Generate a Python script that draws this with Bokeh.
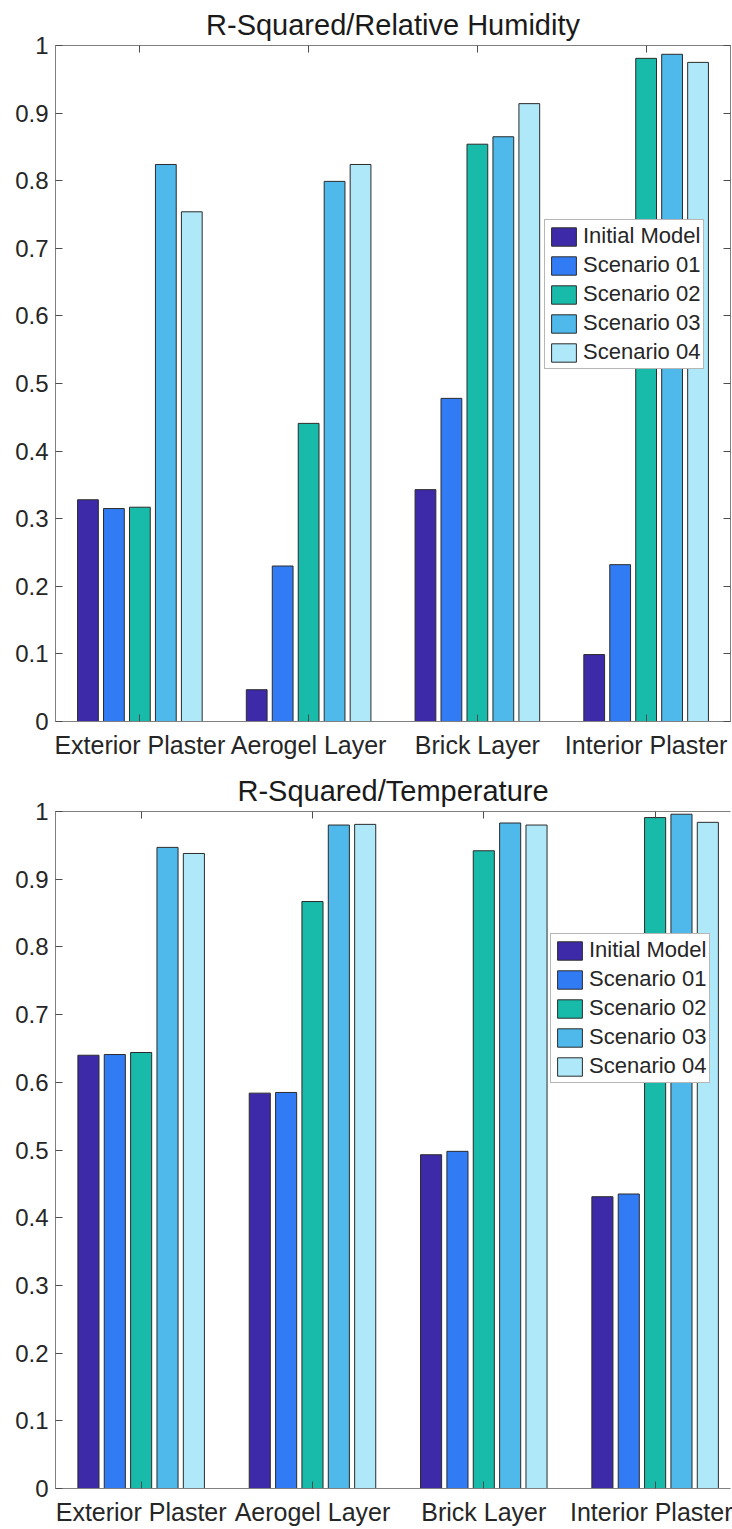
import numpy as np
from bokeh.plotting import figure
from bokeh.models import FixedTicker, LinearAxis, Legend, LegendItem, Range1d, Title
from bokeh.layouts import column
from bokeh.embed import file_html
from bokeh.resources import INLINE

# Wall layers (categories) and model runs (series)
layers = ["Exterior Plaster", "Aerogel Layer", "Brick Layer", "Interior Plaster"]
series = ["Initial Model", "Scenario 01", "Scenario 02", "Scenario 03", "Scenario 04"]
colors = ["#3c2aa8", "#317cf5", "#18bba9", "#4eb9ea", "#aee8f9"]

# R-squared, relative humidity
rh_initial = [0.328, 0.047, 0.343, 0.099]
rh_s01 = [0.315, 0.230, 0.478, 0.232]
rh_s02 = [0.317, 0.441, 0.854, 0.981]
rh_s03 = [0.824, 0.799, 0.865, 0.987]
rh_s04 = [0.754, 0.824, 0.914, 0.975]

# R-squared, temperature
t_initial = [0.640, 0.584, 0.493, 0.431]
t_s01 = [0.641, 0.585, 0.498, 0.435]
t_s02 = [0.644, 0.867, 0.942, 0.991]
t_s03 = [0.947, 0.980, 0.983, 0.996]
t_s04 = [0.938, 0.981, 0.980, 0.984]

y_ticks = [0.0, 0.1, 0.2, 0.3, 0.4, 0.5, 0.6, 0.7, 0.8, 0.9, 1.0]
y_tick_labels = ["0", "0.1", "0.2", "0.3", "0.4", "0.5", "0.6", "0.7", "0.8", "0.9", "1"]

FONT = "Liberation Sans"
TEXT = "#262626"
AXIS = "#808080"
TICK = "#4d4d4d"


def style_axis(ax, label_size=None):
    ax.axis_line_color = AXIS
    ax.axis_line_width = 1
    ax.major_tick_line_color = TICK
    ax.major_tick_in = 7
    ax.major_tick_out = 0
    ax.minor_tick_line_color = None
    ax.major_label_text_font = FONT
    if label_size:
        ax.major_label_text_font_size = label_size
        ax.major_label_text_color = TEXT
    else:
        # tick marks only: the box edges carry no labels
        ax.major_label_text_font_size = "0px"
        ax.major_label_text_color = None
        ax.major_label_standoff = 0


def bar_chart(title, values, width, height, borders, x_end, legend_loc, right_axis):
    left, right, top, bottom = borders
    p = figure(width=width, height=height, x_range=Range1d(0.5, x_end),
               y_range=Range1d(0, 1), output_backend="svg", toolbar_location=None,
               min_border_left=left, min_border_right=right,
               min_border_top=top, min_border_bottom=bottom)
    p.xgrid.visible = False
    p.ygrid.visible = False
    p.outline_line_color = None
    p.background_fill_color = "white"
    p.border_fill_color = "white"

    p.title = Title(text=title, align="center", text_font=FONT, text_font_size="29px",
                    text_font_style="normal", text_color="#1a1a1a", standoff=10)

    # grouped bar geometry
    n = len(series)
    group_width = min(0.8, n / (n + 1.5))
    pitch = group_width / n
    bar_w = pitch * 0.8
    centers = np.arange(1, len(layers) + 1)

    items = []
    for i, (name, vals, col) in enumerate(zip(series, values, colors)):
        xs = centers + (i - (n - 1) / 2) * pitch
        r = p.vbar(x=xs, top=vals, bottom=0, width=bar_w, fill_color=col,
                   line_color="#2b2b2b", line_width=1)
        items.append(LegendItem(label=name, renderers=[r]))

    x_ticker = FixedTicker(ticks=list(centers))
    x_labels = {int(c): lab for c, lab in zip(centers, layers)}
    y_ticker = FixedTicker(ticks=y_ticks)
    y_labels = dict(zip(y_ticks, y_tick_labels))

    xa = p.xaxis[0]
    xa.ticker = x_ticker
    xa.major_label_overrides = x_labels
    xa.major_label_standoff = 9
    style_axis(xa, "25px")

    ya = p.yaxis[0]
    ya.ticker = y_ticker
    ya.major_label_overrides = y_labels
    ya.major_label_standoff = 7
    style_axis(ya, "24px")

    top_ax = LinearAxis(ticker=x_ticker)
    style_axis(top_ax)
    p.add_layout(top_ax, "above")

    if right_axis:
        right_ax = LinearAxis(ticker=y_ticker)
        style_axis(right_ax)
        p.add_layout(right_ax, "right")

    legend = Legend(items=items, location=legend_loc, label_text_font=FONT,
                    label_text_font_size="22px", label_text_color=TEXT,
                    glyph_width=31, glyph_height=23, label_height=23,
                    spacing=3, padding=3, margin=0, label_standoff=4,
                    border_line_color="#6e6e6e", border_line_width=1,
                    background_fill_color="white", background_fill_alpha=1)
    p.add_layout(legend)
    return p


rh_values = [rh_initial, rh_s01, rh_s02, rh_s03, rh_s04]
t_values = [t_initial, t_s01, t_s02, t_s03, t_s04]

p_rh = bar_chart("R-Squared/Relative Humidity", rh_values, 732, 766,
                 (55, 2, 45, 45), 4.5, (489, 352), True)
p_t = bar_chart("R-Squared/Temperature", t_values, 732, 763,
                (49, 0, 45, 41), 4.44, (495, 405), False)

layout = column(p_rh, p_t, spacing=0)
open("out.html", "w").write(file_html(layout, INLINE))
